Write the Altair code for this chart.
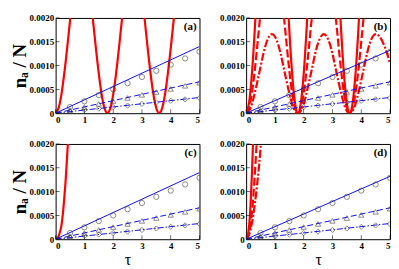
import altair as alt
import pandas as pd

# ---------------- data (values in units of 1e-4) ----------------
TAU_MARK = [0, 0.5, 1, 1.5, 2, 2.5, 3, 3.5, 4, 4.5, 5]
CIRCLES = [0, 1.3, 2.5, 3.8, 5.0, 6.3, 7.6, 8.9, 10.2, 11.5, 12.9]
TRIANGLES = [0, 0.65, 1.3, 1.95, 2.55, 3.2, 3.85, 4.45, 5.1, 5.75, 6.4]
DIAMONDS = [0, 0.32, 0.65, 0.97, 1.3, 1.6, 1.95, 2.25, 2.6, 2.9, 3.2]

LINE_TAU = [0, 5]
BLUE_AC_SOLID = [0, 14.0]
BLUE_AC_DASH = [0, 6.6]
BLUE_AC_DASHDOT = [0, 3.3]
BLUE_BD_SOLID = [0, 13.2]
BLUE_BD_DASH = [0, 6.6]
BLUE_BD_DASHDOT = [0, 3.3]

A_TAU = [0, 0.1, 0.2, 0.3, 0.4, 0.5, 0.6, 0.7, 0.9, 1.1, 1.2, 1.3, 1.4, 1.5, 1.6, 1.7, 1.8,
         1.9, 2.0, 2.1, 2.2, 2.3, 2.4, 2.5, 2.7, 2.9, 3.0, 3.1, 3.2, 3.3, 3.4, 3.5, 3.6,
         3.7, 3.8, 3.9, 4.0, 4.1, 4.2, 4.3, 4.5, 5.0]
A_RED = [0, 1.0, 3.9, 8.3, 13.6, 19.4, 24.8, 29.1, 33, 29.1, 24.8, 19.4, 13.6, 8.3, 3.9, 1.0, 0,
         1.0, 3.9, 8.3, 13.6, 19.4, 24.8, 29.1, 33, 29.1, 24.8, 19.4, 13.6, 8.3, 3.9, 1.0, 0,
         1.0, 3.9, 8.3, 13.6, 19.4, 24.8, 29.1, 33, 33]

B_SOLID_TAU = [0, 0.1, 0.2, 0.3, 0.4, 0.9, 1.4, 1.5, 1.6, 1.7, 1.8, 1.9, 2.0, 2.1, 2.2, 2.7,
               3.2, 3.3, 3.4, 3.5, 3.6, 3.7, 3.8, 3.9, 4.0, 4.5, 5.0]
B_SOLID = [0, 2.1, 8.2, 17.5, 28.9, 70, 28.9, 17.5, 8.2, 2.1, 0, 2.1, 8.2, 17.5, 28.9, 70,
           28.9, 17.5, 8.2, 2.1, 0, 2.1, 8.2, 17.5, 28.9, 70, 70]
B_DASH_TAU = [0, 0.1, 0.2, 0.3, 0.4, 0.5, 0.6, 0.9, 1.2, 1.3, 1.4, 1.5, 1.6, 1.7, 1.8,
              1.9, 2.0, 2.1, 2.2, 2.3, 2.4, 2.7, 3.0, 3.1, 3.2, 3.3, 3.4, 3.5, 3.6,
              3.7, 3.8, 3.9, 4.0, 4.1, 4.2, 4.5, 5.0]
B_DASH = [0, 1.1, 4.2, 9, 14.9, 21.1, 27, 36, 27, 21.1, 14.9, 9, 4.2, 1.1, 0,
          1.1, 4.2, 9, 14.9, 21.1, 27, 36, 27, 21.1, 14.9, 9, 4.2, 1.1, 0,
          1.1, 4.2, 9, 14.9, 21.1, 27, 36, 36]
B_DD_TAU = [0, 0.1, 0.2, 0.3, 0.4, 0.5, 0.6, 0.7, 0.8, 0.9, 1.0, 1.1, 1.2, 1.3, 1.4, 1.5, 1.6,
            1.7, 1.8, 1.9, 2.0, 2.1, 2.2, 2.3, 2.4, 2.5, 2.6, 2.7, 2.8, 2.9, 3.0, 3.1, 3.2,
            3.3, 3.4, 3.5, 3.6, 3.7, 3.8, 3.9, 4.0, 4.1, 4.2, 4.3, 4.4, 4.5, 4.6, 4.7, 4.8,
            4.9, 5.0]
B_DD = [0, 0.5, 1.9, 4.2, 6.9, 9.7, 12.5, 14.7, 16.1, 16.6, 16.1, 14.7, 12.5, 9.7, 6.9, 4.2, 1.9,
        0.5, 0, 0.5, 1.9, 4.2, 6.9, 9.7, 12.5, 14.7, 16.1, 16.6, 16.1, 14.7, 12.5, 9.7, 6.9,
        4.2, 1.9, 0.5, 0, 0.5, 1.9, 4.2, 6.9, 9.7, 12.5, 14.7, 16.1, 16.6, 16.3, 15.5, 14.2,
        12.5, 10.5]

C_TAU = [0, 0.05, 0.1, 0.15, 0.2, 0.25, 0.3, 0.35, 0.4, 0.45, 0.5]
C_RED = [0, 0.15, 0.6, 1.5, 2.8, 5.2, 8.6, 12.5, 17.5, 22.5, 28]

D_SOLID_TAU = [0, 0.05, 0.1, 0.15, 0.2, 0.25, 0.3]
D_SOLID = [0, 0.6, 2.6, 6.8, 13.5, 22, 32]
D_DASH_TAU = [0, 0.1, 0.2, 0.25, 0.3, 0.35, 0.4, 0.45]
D_DASH = [0, 1.3, 5.5, 9, 13.5, 18.5, 24.5, 31]
D_DD_TAU = [0, 0.1, 0.2, 0.3, 0.4, 0.45, 0.5, 0.55, 0.6]
D_DD = [0, 0.9, 3.4, 7.3, 12.5, 15.5, 19, 22.5, 26]

X_TICKS = [0, 1, 2, 3, 4, 5]
Y_TICKS = [0, 0.0005, 0.0010, 0.0015, 0.0020]
UNIT = 1e-4

# ---------------- styling ----------------
W, H = 145, 96
SERIF = "Liberation Serif"
DASH = [6, 3]
DASHDOT = [6, 2, 1.5, 2]
RDASH = [8, 3]
RDASHDOT = [8, 2, 2, 2]


def df_of(taus, vals):
    return pd.DataFrame({"tau": taus, "v": [x * UNIT for x in vals]})


def panel(label, reds, blues, ytitle, xtitle):
    xenc = alt.X("tau:Q", scale=alt.Scale(domain=[0, 5], nice=False),
                 axis=alt.Axis(values=X_TICKS, title=xtitle, format="d",
                               labelPadding=2, titlePadding=1, titleFontSize=16,
                               titleFontWeight="normal"))
    yenc = alt.Y("v:Q", scale=alt.Scale(domain=[0, 0.002], nice=False),
                 axis=alt.Axis(values=Y_TICKS, title=ytitle, labelPadding=2, titlePadding=0,
                               titleFontSize=19,
                               labelExpr="datum.value == 0 ? '0' : format(datum.value, '.4f')"))
    layers = []
    for taus, vals, dash in reds:
        kw = dict(color="#ff0000", strokeWidth=2.2, clip=True, interpolate="monotone")
        if dash:
            kw["strokeDash"] = dash
        layers.append(alt.Chart(df_of(taus, vals)).mark_line(**kw).encode(x=xenc, y=yenc))
    for vals, dash in blues:
        kw = dict(color="#1010ff", strokeWidth=1.0, clip=True)
        if dash:
            kw["strokeDash"] = dash
        layers.append(alt.Chart(df_of(LINE_TAU, vals)).mark_line(**kw).encode(x=xenc, y=yenc))
    for vals, shape in [(CIRCLES, "circle"), (TRIANGLES, "triangle-up"), (DIAMONDS, "diamond")]:
        layers.append(alt.Chart(df_of(TAU_MARK, vals)).mark_point(
            shape=shape, filled=False, color="#333333", size=28, strokeWidth=0.8, clip=True
        ).encode(x=xenc, y=yenc))
    # inward ticks
    xt = pd.DataFrame({"tau": X_TICKS})
    yt = pd.DataFrame({"v": Y_TICKS})
    layers.append(alt.Chart(xt).mark_tick(orient="vertical", color="black", size=4, thickness=0.8)
                  .encode(x=xenc, y=alt.value(H - 2)))
    layers.append(alt.Chart(yt).mark_tick(orient="horizontal", color="black", size=4, thickness=0.8)
                  .encode(y=yenc, x=alt.value(2)))
    layers.append(alt.Chart(pd.DataFrame({"t": [label]})).mark_text(
        font=SERIF, fontWeight="bold", fontSize=11, align="right", baseline="top", color="black"
    ).encode(text="t:N", x=alt.value(W - 3), y=alt.value(3)))
    return alt.layer(*layers).properties(width=W, height=H)


YT = "nₐ / N"
XT = "τ"
blue_ac = [(BLUE_AC_SOLID, None), (BLUE_AC_DASH, DASH), (BLUE_AC_DASHDOT, DASHDOT)]
blue_bd = [(BLUE_BD_SOLID, None), (BLUE_BD_DASH, DASH), (BLUE_BD_DASHDOT, DASHDOT)]

pa = panel("(a)", [(A_TAU, A_RED, None)], blue_ac, YT, None)
pb = panel("(b)", [(B_SOLID_TAU, B_SOLID, None), (B_DASH_TAU, B_DASH, RDASH), (B_DD_TAU, B_DD, RDASHDOT)],
           blue_bd, None, None)
pc = panel("(c)", [(C_TAU, C_RED, None)], blue_ac, YT, XT)
pd_ = panel("(d)", [(D_SOLID_TAU, D_SOLID, None), (D_DASH_TAU, D_DASH, RDASH), (D_DD_TAU, D_DD, RDASHDOT)],
            blue_bd, None, XT)

chart = alt.vconcat(
    alt.hconcat(pa, pb, spacing=18),
    alt.hconcat(pc, pd_, spacing=18),
    spacing=14,
).properties(
    padding={"left": 1, "top": 4, "right": 0, "bottom": 0}
).configure_axis(
    labelFont=SERIF, labelFontWeight="bold", labelFontSize=9, labelColor="black",
    titleFont=SERIF, titleFontWeight="bold", titleColor="black",
    ticks=False, domain=False, grid=False,
).configure_view(stroke="black", strokeWidth=1)

chart.save("out.html", embed_options={"renderer": "svg", "actions": False})
